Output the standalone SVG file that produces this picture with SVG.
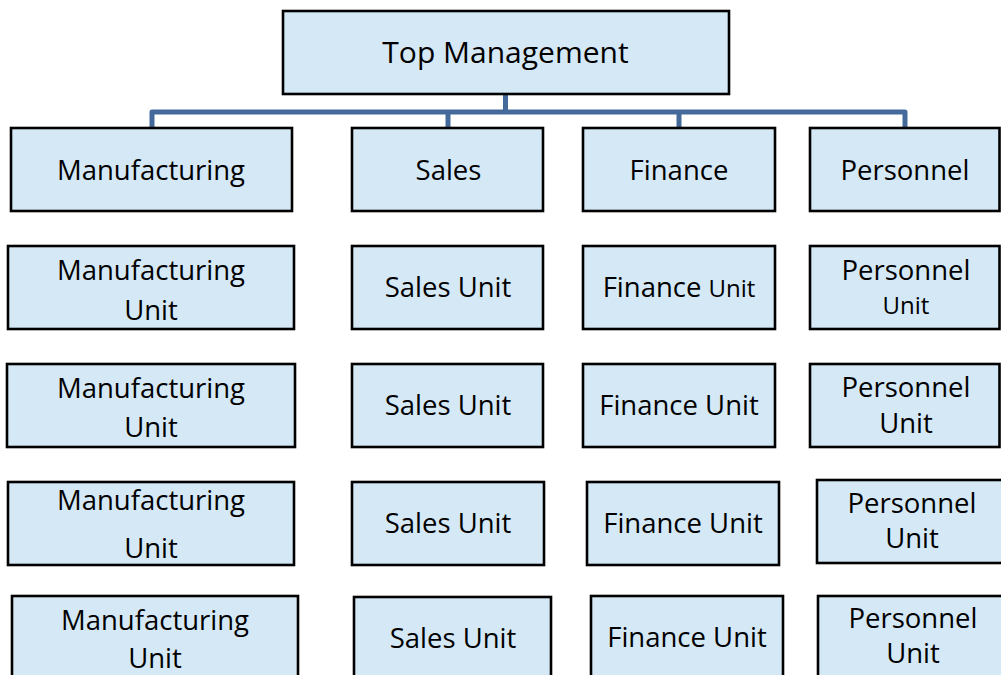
<svg xmlns="http://www.w3.org/2000/svg" width="1001" height="675" viewBox="0 0 1001 675">
<style>
.box{fill:#D5E8F6;stroke:#000;stroke-width:2.6}
.t{font-family:"Open Sans","Noto Sans","Liberation Sans",sans-serif;font-size:27.5px;fill:#000;text-anchor:middle}
.top{font-size:30px}
.sm{font-size:24px}
.conn{fill:none;stroke:#44699B;stroke-width:5;stroke-linejoin:round;stroke-linecap:butt}
</style>
<rect width="1001" height="675" fill="#fff"/>
<g id="connectors">
<path class="conn" d="M505.5,94 V112"/>
<path class="conn" d="M152,127 V112 H905 V127"/>
<path class="conn" d="M448,112 V127"/>
<path class="conn" d="M679,112 V127"/>
</g>
<g id="top"><rect class="box" x="283" y="11" width="446" height="83"/><text class="t top" x="505.5" y="63">Top Management</text></g>

<g id="manufacturing"><rect class="box" x="11" y="128" width="281" height="83"/><text class="t" x="151" y="180">Manufacturing</text></g>
<g id="sales"><rect class="box" x="352" y="128" width="191" height="83"/><text class="t" x="448.5" y="180">Sales</text></g>
<g id="finance"><rect class="box" x="583" y="128" width="192" height="83"/><text class="t" x="679" y="180">Finance</text></g>
<g id="personnel"><rect class="box" x="810" y="128" width="189.5" height="83"/><text class="t" x="905" y="180">Personnel</text></g>

<g id="mfg-unit-1"><rect class="box" x="8" y="246" width="286" height="83"/><text class="t" x="151" y="280">Manufacturing</text><text class="t" x="151" y="320">Unit</text></g>
<g id="sales-unit-1"><rect class="box" x="352" y="246" width="191" height="83"/><text class="t" x="448" y="297">Sales Unit</text></g>
<g id="finance-unit-1"><rect class="box" x="583" y="246" width="192" height="83"/><text class="t" x="679" y="297">Finance <tspan class="sm">Unit</tspan></text></g>
<g id="personnel-unit-1"><rect class="box" x="810" y="246" width="189.5" height="83"/><text class="t" x="906" y="280">Personnel</text><text class="t sm" x="906" y="314">Unit</text></g>

<g id="mfg-unit-2"><rect class="box" x="7" y="364" width="288" height="83"/><text class="t" x="151" y="398">Manufacturing</text><text class="t" x="151" y="437">Unit</text></g>
<g id="sales-unit-2"><rect class="box" x="352" y="364" width="191" height="83"/><text class="t" x="448" y="415">Sales Unit</text></g>
<g id="finance-unit-2"><rect class="box" x="583" y="364" width="192" height="83"/><text class="t" x="679" y="415">Finance Unit</text></g>
<g id="personnel-unit-2"><rect class="box" x="810" y="364" width="189.5" height="83"/><text class="t" x="906" y="397">Personnel</text><text class="t" x="906" y="433">Unit</text></g>

<g id="mfg-unit-3"><rect class="box" x="8" y="482" width="286" height="83"/><text class="t" x="151" y="510">Manufacturing</text><text class="t" x="151" y="558">Unit</text></g>
<g id="sales-unit-3"><rect class="box" x="352" y="482" width="192" height="83"/><text class="t" x="448" y="533">Sales Unit</text></g>
<g id="finance-unit-3"><rect class="box" x="587" y="482" width="192" height="83"/><text class="t" x="683" y="533">Finance Unit</text></g>
<g id="personnel-unit-3"><rect class="box" x="817" y="480" width="187" height="83"/><text class="t" x="912" y="513">Personnel</text><text class="t" x="912" y="548">Unit</text></g>

<g id="mfg-unit-4"><rect class="box" x="12" y="596" width="286" height="90"/><text class="t" x="155" y="630">Manufacturing</text><text class="t" x="155" y="668">Unit</text></g>
<g id="sales-unit-4"><rect class="box" x="354" y="597" width="197" height="90"/><text class="t" x="453" y="648">Sales Unit</text></g>
<g id="finance-unit-4"><rect class="box" x="591" y="596" width="192" height="90"/><text class="t" x="687" y="647">Finance Unit</text></g>
<g id="personnel-unit-4"><rect class="box" x="818" y="596" width="186" height="90"/><text class="t" x="913" y="628">Personnel</text><text class="t" x="913" y="663">Unit</text></g>
</svg>
